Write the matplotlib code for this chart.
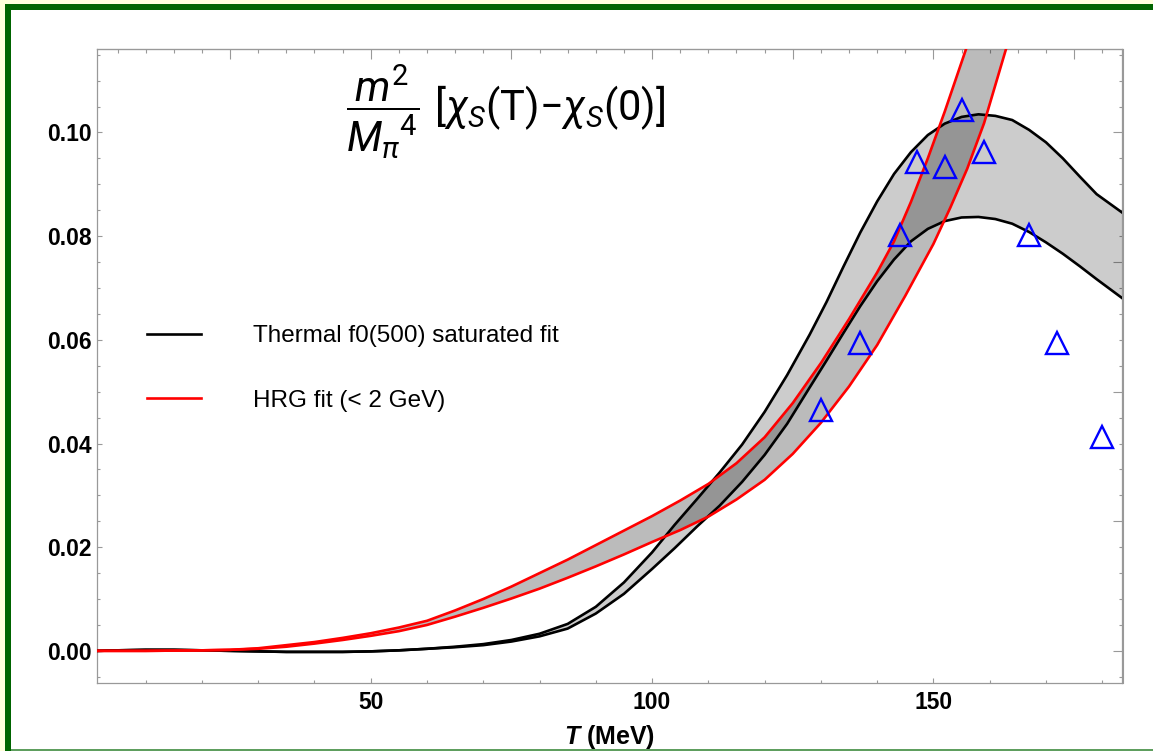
import matplotlib
matplotlib.use('Agg')
import matplotlib.pyplot as plt
from matplotlib.patches import Rectangle
from matplotlib.lines import Line2D
from matplotlib.ticker import MultipleLocator

plt.rcParams['font.family'] = ['Liberation Sans', 'DejaVu Sans']
plt.rcParams['mathtext.fontset'] = 'custom'
plt.rcParams['mathtext.rm'] = 'Roboto'
plt.rcParams['mathtext.it'] = 'Roboto:italic'
plt.rcParams['mathtext.bf'] = 'Liberation Sans:bold'
plt.rcParams['mathtext.bfit'] = 'Liberation Sans:italic:bold'

# thermal f0(500) saturated fit, upper and lower edge of the band
T_th_hi = [1.35, 5, 10, 15, 20, 25, 30, 35, 40, 45, 50, 55, 60, 65, 70, 75, 80, 85,
           90, 95, 100, 104, 108, 112, 116, 120, 124, 128, 131, 134, 137, 140, 143,
           146, 149, 152, 155, 158, 161, 164, 167, 170, 173, 176, 179, 183.6]
th_hi = [0.0, 0.0001, 0.0002, 0.0002, 0.0001, 0.0, -0.0001, -0.0002, -0.0002,
         -0.0002, -0.0001, 0.0001, 0.0004, 0.0008, 0.0013, 0.0021, 0.0033, 0.0052,
         0.0085, 0.0132, 0.0190, 0.0243, 0.0293, 0.0344, 0.0398, 0.0461, 0.0532,
         0.0610, 0.0673, 0.0741, 0.0807, 0.0867, 0.0920, 0.0962, 0.0995, 0.1017,
         0.1030, 0.1035, 0.1032, 0.1024, 0.1005, 0.0981, 0.0950, 0.0915, 0.0881, 0.0845]
T_th_lo = [1.35, 5, 10, 15, 20, 25, 30, 35, 40, 45, 50, 55, 60, 65, 70, 75, 80, 85,
           90, 95, 100, 104, 108, 112, 116, 120, 124, 128, 131, 134, 137, 140, 143,
           146, 149, 152, 155, 158, 161, 164, 167, 170, 173, 176, 179, 183.6]
th_lo = [0.0, 0.0001, 0.0002, 0.0002, 0.0001, 0.0, -0.0001, -0.0002, -0.0002,
         -0.0002, -0.0001, 0.0001, 0.0004, 0.0007, 0.0011, 0.0018, 0.0028, 0.0043,
         0.0072, 0.0110, 0.0158, 0.0198, 0.0240, 0.0280, 0.0326, 0.0378, 0.0438,
         0.0508, 0.0560, 0.0613, 0.0665, 0.0713, 0.0755, 0.0790, 0.0814, 0.0829,
         0.0836, 0.0837, 0.0833, 0.0824, 0.0808, 0.0788, 0.0766, 0.0742, 0.0717, 0.0680]

# HRG fit (< 2 GeV), upper and lower edge of the band
T_hrg_hi = [1.35, 10, 20, 25, 30, 35, 40, 45, 50, 55, 60, 65, 70, 75, 80, 85, 90,
            95, 100, 105, 110, 115, 120, 125, 130, 135, 140, 143, 146, 149, 152, 155.8]
hrg_hi = [0.0, 0.0, 0.0001, 0.0002, 0.0005, 0.0011, 0.0017, 0.0025, 0.0034, 0.0045,
          0.0058, 0.0078, 0.0100, 0.0124, 0.0150, 0.0176, 0.0204, 0.0232, 0.0260,
          0.0290, 0.0322, 0.0362, 0.0412, 0.0478, 0.0555, 0.0640, 0.0730, 0.0790,
          0.0866, 0.0950, 0.1040, 0.1161]
T_hrg_lo = [1.35, 10, 20, 25, 30, 35, 40, 45, 50, 55, 60, 65, 70, 75, 80, 85, 90,
            95, 100, 105, 110, 115, 120, 125, 130, 135, 140, 145, 150, 153, 156, 159, 162.9]
hrg_lo = [0.0, 0.0, 0.0001, 0.0002, 0.0004, 0.0008, 0.0014, 0.0021, 0.0029, 0.0038,
          0.0050, 0.0066, 0.0083, 0.0101, 0.0120, 0.0141, 0.0163, 0.0186, 0.0210,
          0.0233, 0.0259, 0.0292, 0.0330, 0.0380, 0.0440, 0.0510, 0.0590, 0.0685,
          0.0785, 0.0855, 0.0930, 0.1018, 0.1161]

# lattice points
T_lat = [130, 137, 144, 147, 152, 155, 159, 167, 172, 180]
chi_lat = [0.0464, 0.0593, 0.0802, 0.0943, 0.0934, 0.1043, 0.0963, 0.0802, 0.0593, 0.0413]

xticks = [50, 100, 150]
yticks = [0.00, 0.02, 0.04, 0.06, 0.08, 0.10]

W, H = 1153, 751
fig = plt.figure(figsize=(W / 100, H / 100), dpi=100)
fig.patch.set_facecolor('#ffffdc')
fig.add_artist(Rectangle((11 / W, 0), 1, (H - 10) / H, transform=fig.transFigure,
                         facecolor='white', edgecolor='none', zorder=-10))
fig.add_artist(Rectangle((5 / W, (H - 10) / H), 1, 6 / H, transform=fig.transFigure,
                         facecolor='#006400', edgecolor='none', zorder=-9))
fig.add_artist(Rectangle((5 / W, 0), 6 / W, (H - 4) / H, transform=fig.transFigure,
                         facecolor='#006400', edgecolor='none', zorder=-9))
fig.add_artist(Rectangle((11 / W, 0), 1, 2 / H, transform=fig.transFigure,
                         facecolor='#5e9e5e', edgecolor='none', zorder=-9))

ax = fig.add_axes([97 / W, 68 / H, 1025.5 / W, 634 / H])
ax.set_facecolor('none')

# bands
ax.fill(T_th_hi + T_th_lo[::-1], th_hi + th_lo[::-1], color='black', alpha=0.2, lw=0, zorder=1)
ax.fill(T_hrg_hi + T_hrg_lo[::-1], hrg_hi + hrg_lo[::-1], color='black', alpha=0.267, lw=0, zorder=1)
ax.plot(T_th_hi, th_hi, color='black', lw=1.9, zorder=3)
ax.plot(T_th_lo, th_lo, color='black', lw=1.9, zorder=3)
ax.plot(T_hrg_hi, hrg_hi, color='#ff0000', lw=1.9, zorder=4)
ax.plot(T_hrg_lo, hrg_lo, color='#ff0000', lw=1.9, zorder=4)
ax.plot(T_lat, chi_lat, ls='none', marker='^', ms=16, mfc='none', mec='#0000ff', mew=1.7, zorder=5)

ax.set_xlim(1.35, 183.6)
ax.set_ylim(-0.0062, 0.1161)
ax.set_xticks(xticks)
ax.set_xticklabels([str(t) for t in xticks])
ax.set_yticks(yticks)
ax.set_yticklabels(['%.2f' % v for v in yticks])
ax.xaxis.set_minor_locator(MultipleLocator(10))
ax.yaxis.set_minor_locator(MultipleLocator(0.005))
ax.tick_params(which='both', direction='in', color='#999999', width=0.8,
               top=False, right=False)
ax.tick_params(which='major', length=3.6)
ax.tick_params(which='minor', length=2.4)
ax.tick_params(axis='y', pad=4)
ax.tick_params(axis='x', pad=6)
for lab in ax.get_xticklabels() + ax.get_yticklabels():
    lab.set_fontweight('bold')
    lab.set_fontsize(16.5)
for sp in ax.spines.values():
    sp.set_color('#999999')
    sp.set_linewidth(0.9)

top = ax.secondary_xaxis('top')
top.xaxis.set_major_locator(MultipleLocator(25))
top.xaxis.set_minor_locator(MultipleLocator(5))
top.tick_params(which='both', direction='in', color='#999999', width=0.8, labeltop=False)
top.tick_params(which='major', length=7)
top.tick_params(which='minor', length=3.2)
top.spines['top'].set_color('#999999')

right = ax.secondary_yaxis('right')
right.yaxis.set_major_locator(MultipleLocator(0.025))
right.yaxis.set_minor_locator(MultipleLocator(0.005))
right.tick_params(which='both', direction='in', color='#999999', width=0.8, labelright=False)
right.tick_params(which='major', length=7)
right.tick_params(which='minor', length=3.2)
right.spines['right'].set_color('#999999')

ax.set_xlabel(r'$\mathbfit{T}$ (MeV)', fontsize=18, fontweight='bold', labelpad=6)

ax.text(0.243, 0.900, r'$\dfrac{m^2}{{M_\pi}^4}\ [\chi_S(\mathrm{T}){-}\chi_S(0)]$',
        transform=ax.transAxes, ha='left', va='center', fontsize=30)

handles = [Line2D([], [], color='black', lw=1.9), Line2D([], [], color='#ff0000', lw=1.9)]
ax.legend(handles, ['Thermal f0(500) saturated fit', 'HRG fit (< 2 GeV)'],
          loc='upper left', bbox_to_anchor=(0.0396, 0.580), borderaxespad=0,
          frameon=False, fontsize=17.5, handlelength=2.2, handletextpad=2.15,
          labelspacing=1.75)

fig.savefig('out.png', dpi=100)
